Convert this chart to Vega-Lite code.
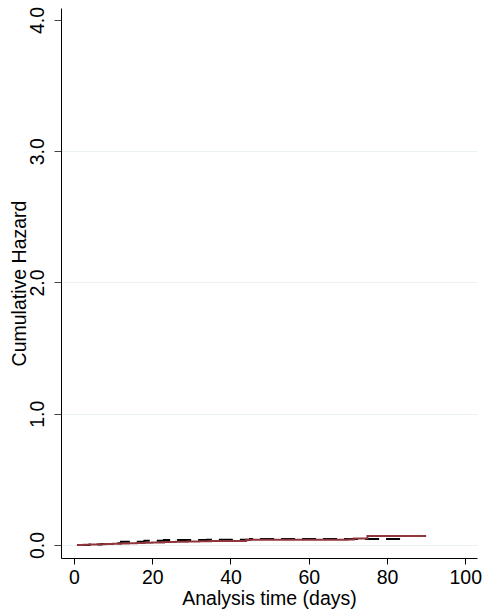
{
  "$schema": "https://vega.github.io/schema/vega-lite/v6.json",
  "width": 416,
  "height": 550,
  "autosize": {"type": "none"},
  "padding": {"left": 61, "top": 8, "right": 6, "bottom": 52},
  "background": "white",
  "config": {"view": {"stroke": null}, "font": "Liberation Sans"},
  "data": {"values": [
    {"t": 0.8, "h": 0, "g": "0"},
    {"t": 4, "h": 0.004, "g": "0"},
    {"t": 7, "h": 0.008, "g": "0"},
    {"t": 10, "h": 0.014, "g": "0"},
    {"t": 12, "h": 0.025, "g": "0"},
    {"t": 18, "h": 0.033, "g": "0"},
    {"t": 23, "h": 0.038, "g": "0"},
    {"t": 34, "h": 0.040, "g": "0"},
    {"t": 45, "h": 0.046, "g": "0"},
    {"t": 70, "h": 0.046, "g": "0"},
    {"t": 85, "h": 0.046, "g": "0"},
    {"t": 0.8, "h": 0, "g": "1"},
    {"t": 2.5, "h": 0.002, "g": "1"},
    {"t": 4, "h": 0.004, "g": "1"},
    {"t": 6, "h": 0.006, "g": "1"},
    {"t": 8, "h": 0.008, "g": "1"},
    {"t": 10, "h": 0.010, "g": "1"},
    {"t": 12, "h": 0.012, "g": "1"},
    {"t": 14, "h": 0.014, "g": "1"},
    {"t": 16, "h": 0.016, "g": "1"},
    {"t": 18, "h": 0.018, "g": "1"},
    {"t": 20, "h": 0.020, "g": "1"},
    {"t": 23, "h": 0.022, "g": "1"},
    {"t": 26, "h": 0.024, "g": "1"},
    {"t": 29, "h": 0.026, "g": "1"},
    {"t": 32, "h": 0.028, "g": "1"},
    {"t": 35, "h": 0.030, "g": "1"},
    {"t": 44, "h": 0.040, "g": "1"},
    {"t": 70, "h": 0.042, "g": "1"},
    {"t": 71.5, "h": 0.050, "g": "1"},
    {"t": 75, "h": 0.069, "g": "1"},
    {"t": 90, "h": 0.069, "g": "1"}
  ]},
  "mark": {"type": "line", "interpolate": "step-after", "strokeWidth": 2},
  "encoding": {
    "x": {
      "field": "t", "type": "quantitative",
      "scale": {"domain": [-3.32, 103], "nice": false, "zero": false},
      "axis": {
        "values": [0, 20, 40, 60, 80, 100],
        "grid": false,
        "domainColor": "#000",
        "tickColor": "#000",
        "tickSize": 6,
        "labelFontSize": 19.5,
        "labelColor": "#000",
        "labelBaseline": "alphabetic",
        "labelPadding": 19,
        "labelFlush": false,
        "labelOverlap": false,
        "title": "Analysis time (days)",
        "titleFontSize": 19.5,
        "titleFontWeight": "normal",
        "titleColor": "#000",
        "titleBaseline": "alphabetic",
        "titleY": 46
      }
    },
    "y": {
      "field": "h", "type": "quantitative",
      "scale": {"domain": [-0.099, 4.091], "nice": false, "zero": false},
      "axis": {
        "values": [0, 1, 2, 3, 4],
        "format": ".1f",
        "grid": true,
        "gridColor": "#eaf2f3",
        "gridOpacity": {"condition": {"test": "datum.value >= 4", "value": 0}, "value": 1},
        "domainColor": "#000",
        "tickColor": "#444",
        "tickSize": 7,
        "labelAngle": -90,
        "labelAlign": "center",
        "labelBaseline": "alphabetic",
        "labelPadding": 11,
        "labelFontSize": 19.5,
        "labelColor": "#000",
        "labelFlush": false,
        "labelOverlap": false,
        "title": "Cumulative Hazard",
        "titleFontSize": 19.5,
        "titleFontWeight": "normal",
        "titleColor": "#000",
        "titleAngle": -90,
        "titleAlign": "center",
        "titleBaseline": "alphabetic",
        "titleX": -36,
        "titleY": 275
      }
    },
    "color": {
      "field": "g", "type": "nominal",
      "scale": {"domain": ["0", "1"], "range": ["#000000", "#90353b"]},
      "legend": null
    },
    "strokeDash": {
      "field": "g", "type": "nominal",
      "scale": {"domain": ["0", "1"], "range": [[14, 7], [1, 0]]},
      "legend": null
    }
  }
}
